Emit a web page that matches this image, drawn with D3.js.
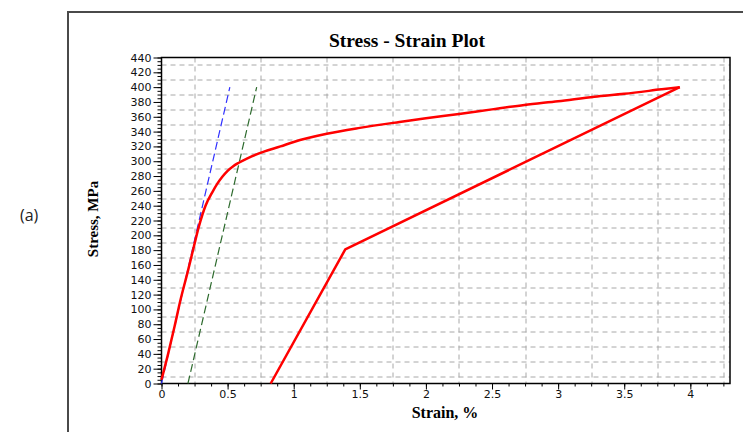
<!DOCTYPE html>
<html>
<head>
<meta charset="utf-8">
<script src="https://cdn.jsdelivr.net/npm/d3@7"></script>
<style>
  body { margin: 0; background: #fff; }
  svg { display: block; }
</style>
</head>
<body>
<div id="chart"></div>
<script>
// loading curve then unloading
const loadStrain = [0, 0.05, 0.1, 0.144, 0.2, 0.245, 0.283, 0.333, 0.384, 0.42, 0.46, 0.5, 0.54, 0.585, 0.65, 0.775, 0.9, 1.0, 1.25, 1.5, 1.8, 2.0, 2.265, 2.5, 2.745, 3.0, 3.274, 3.5, 3.78, 3.92];
const loadStress = [5, 40, 78, 113, 152, 185, 212, 240, 258, 269, 279, 287, 293, 298, 304, 313, 320, 326, 337, 345, 353, 358, 364, 370, 376, 381, 387, 391, 397, 400];
const unloadStrain = [3.92, 1.39, 0.826];
const unloadStress = [400, 181, 0];
const elasticStrain = [0, 0.517];
const elasticStress = [0, 400];
const offsetStrain = [0.2, 0.72];
const offsetStress = [0, 400];

const xTicks = [0, 0.5, 1, 1.5, 2, 2.5, 3, 3.5, 4];
const xTickLabels = ["0", "0.5", "1", "1.5", "2", "2.5", "3", "3.5", "4"];
const yTicks = d3.range(0, 441, 20);
const xGrid = [0.25, 0.75, 1.25, 1.75, 2.25, 2.75, 3.25, 3.75, 4.25];
const yGrid = d3.range(10, 431, 20);

const width = 743, height = 432;
const margin = { top: 57.5, right: 13, bottom: 48.5, left: 161.5 };
const innerW = width - margin.left - margin.right;
const innerH = height - margin.top - margin.bottom;

const svg = d3.select("#chart").append("svg")
  .attr("width", width)
  .attr("height", height);

// outer frame (cut off at right/bottom)
svg.append("rect")
  .attr("x", 68).attr("y", 12)
  .attr("width", 720).attr("height", 460)
  .attr("fill", "none")
  .attr("stroke", "#4a4a4a")
  .attr("stroke-width", 2);

svg.append("text")
  .attr("x", 20).attr("y", 221)
  .attr("font-family", "Open Sans")
  .attr("font-size", 16)
  .attr("fill", "#222")
  .text("(a)");

const xScale = d3.scaleLinear().domain([0, 4.3]).range([0, innerW]);
const yScale = d3.scaleLinear().domain([0, 440]).range([innerH, 0]);

const g = svg.append("g")
  .attr("transform", `translate(${margin.left}, ${margin.top})`);

// grid
g.append("g").selectAll("line")
  .data(xGrid)
  .enter().append("line")
  .attr("x1", d => Math.round(xScale(d)) + 0.5)
  .attr("x2", d => Math.round(xScale(d)) + 0.5)
  .attr("y1", 0).attr("y2", innerH)
  .attr("stroke", "#a8a8a8")
  .attr("stroke-dasharray", "5,4");

g.append("g").selectAll("line")
  .data(yGrid)
  .enter().append("line")
  .attr("x1", 0).attr("x2", innerW)
  .attr("y1", d => Math.round(yScale(d)) + 0.5)
  .attr("y2", d => Math.round(yScale(d)) + 0.5)
  .attr("stroke", "#a8a8a8")
  .attr("stroke-dasharray", "5,4");

// axes
const xAxis = d3.axisBottom(xScale)
  .tickValues(xTicks)
  .tickFormat((d, i) => xTickLabels[i])
  .tickSize(6)
  .tickPadding(1);
const xMinor = d3.axisBottom(xScale)
  .tickValues(d3.range(0, 4.3, 0.125))
  .tickFormat("")
  .tickSize(3);
const yAxis = d3.axisLeft(yScale)
  .tickValues(yTicks)
  .tickSize(8)
  .tickPadding(2);
const yMinor = d3.axisLeft(yScale)
  .tickValues(d3.range(0, 441, 5))
  .tickFormat("")
  .tickSize(4);

[xMinor, xAxis].forEach(ax => {
  g.append("g")
    .attr("transform", `translate(0, ${innerH})`)
    .call(ax)
    .call(s => s.select(".domain").remove());
});
[yMinor, yAxis].forEach(ax => {
  g.append("g")
    .call(ax)
    .call(s => s.select(".domain").remove());
});

g.selectAll(".tick text")
  .attr("font-family", "DejaVu Sans")
  .attr("font-size", 11)
  .attr("fill", "#111");

// plot border
g.append("rect")
  .attr("x", 0).attr("y", 0)
  .attr("width", innerW).attr("height", innerH)
  .attr("fill", "none")
  .attr("stroke", "#000")
  .attr("stroke-width", 1.5);

const line = d3.line()
  .x(d => xScale(d[0]))
  .y(d => yScale(d[1]));

const loading = loadStrain.map((s, i) => [s, loadStress[i]]);
const unloading = unloadStrain.map((s, i) => [s, unloadStress[i]]);

g.append("path")
  .datum(elasticStrain.map((s, i) => [s, elasticStress[i]]))
  .attr("fill", "none")
  .attr("stroke", "#3030ff")
  .attr("stroke-width", 1.2)
  .attr("stroke-dasharray", "8,4")
  .attr("d", line);

g.append("path")
  .datum(offsetStrain.map((s, i) => [s, offsetStress[i]]))
  .attr("fill", "none")
  .attr("stroke", "#2d6a2d")
  .attr("stroke-width", 1.2)
  .attr("stroke-dasharray", "8,4")
  .attr("d", line);

g.append("path")
  .datum(loading)
  .attr("fill", "none")
  .attr("stroke", "#ff0000")
  .attr("stroke-width", 2.5)
  .attr("stroke-linejoin", "round")
  .attr("d", d3.line().x(d => xScale(d[0])).y(d => yScale(d[1])).curve(d3.curveMonotoneX));

g.append("path")
  .datum(unloading)
  .attr("fill", "none")
  .attr("stroke", "#ff0000")
  .attr("stroke-width", 2.5)
  .attr("stroke-linejoin", "round")
  .attr("d", line);

// titles
svg.append("text")
  .attr("x", 407).attr("y", 47)
  .attr("text-anchor", "middle")
  .attr("font-family", "Liberation Serif")
  .attr("font-weight", "bold")
  .attr("font-size", 19.5)
  .text("Stress - Strain Plot");

svg.append("text")
  .attr("x", 445).attr("y", 418)
  .attr("text-anchor", "middle")
  .attr("font-family", "Liberation Serif")
  .attr("font-weight", "bold")
  .attr("font-size", 16)
  .text("Strain, %");

svg.append("text")
  .attr("transform", "translate(98, 219) rotate(-90)")
  .attr("text-anchor", "middle")
  .attr("font-family", "Liberation Serif")
  .attr("font-weight", "bold")
  .attr("font-size", 15)
  .text("Stress, MPa");
</script>
</body>
</html>
